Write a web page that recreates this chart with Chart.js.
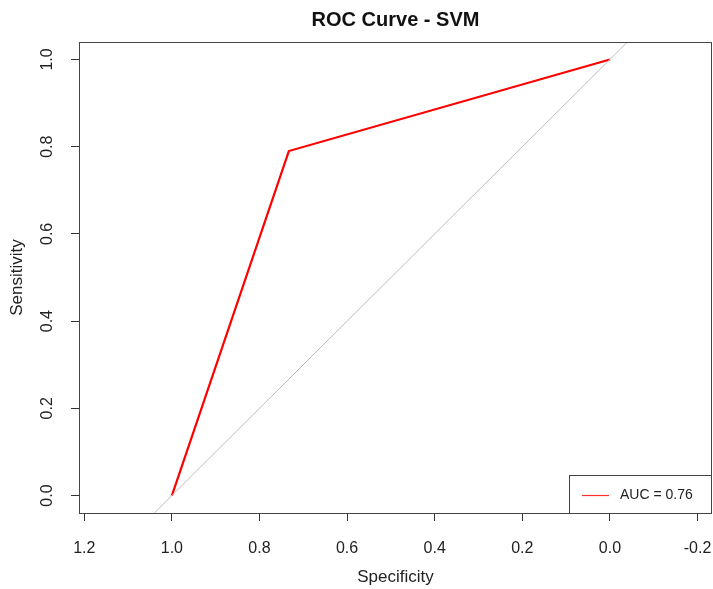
<!DOCTYPE html>
<html>
<head>
<meta charset="utf-8">
<script src="https://cdn.jsdelivr.net/npm/chart.js@4"></script>
<style>
  html, body { margin: 0; padding: 0; background: #fff; }
  #wrap { width: 713px; height: 589px; }
</style>
</head>
<body>
<div id="wrap"><canvas id="rocChart" width="713" height="589"></canvas></div>
<script>
// ROC points
const specificity = [1.0, 0.733, 0.0];
const sensitivity = [0.0, 0.79, 1.0];
const aucLabel = 'AUC = 0.76';

const xTicks = [1.2, 1.0, 0.8, 0.6, 0.4, 0.2, 0.0, -0.2];
const yTicks = [0.0, 0.2, 0.4, 0.6, 0.8, 1.0];
const xRange = [-0.233, 1.212];
const yRange = [-0.04, 1.04];

const FONT = 'Arial, "Liberation Sans", sans-serif';

// chance line x + y = 1, running the full height of the plot
const diagonal = yRange.map(y => ({ x: 1 - y, y }));

const rocPoints = specificity.map((s, i) => ({ x: s, y: sensitivity[i] }));

const rPlot = {
  id: 'rPlot',
  afterDraw(chart) {
    const ctx = chart.ctx;
    const a = chart.chartArea;
    const ys = chart.scales.y;
    ctx.save();
    // box around the plot
    ctx.strokeStyle = '#444';
    ctx.lineWidth = 1;
    ctx.strokeRect(a.left + 0.5, a.top + 0.5, a.right - a.left - 1, a.bottom - a.top);

    // rotated y tick labels, R style
    ctx.fillStyle = '#222';
    ctx.font = '16px ' + FONT;
    ctx.textAlign = 'center';
    ctx.textBaseline = 'middle';
    yTicks.forEach(v => {
      const py = ys.getPixelForValue(v);
      ctx.save();
      ctx.translate(a.left - 31, py);
      ctx.rotate(-Math.PI / 2);
      ctx.fillText(v.toFixed(1), 0, 0);
      ctx.restore();
    });

    // legend box in bottom right corner
    const lw = 143, lh = 38;
    const lx = Math.round(a.right - lw), ly = Math.round(a.bottom - lh);
    ctx.fillStyle = '#fff';
    ctx.fillRect(lx, ly, lw, lh);
    ctx.strokeStyle = '#444';
    ctx.strokeRect(lx + 0.5, ly + 0.5, lw - 1, lh);
    ctx.strokeStyle = '#ff3030';
    ctx.lineWidth = 1.2;
    ctx.beginPath();
    ctx.moveTo(lx + 13, ly + 20.5);
    ctx.lineTo(lx + 40, ly + 20.5);
    ctx.stroke();
    ctx.fillStyle = '#222';
    ctx.font = '14px ' + FONT;
    ctx.textAlign = 'left';
    ctx.fillText(aucLabel, lx + 51, ly + 20);
    ctx.restore();
  }
};

new Chart(document.getElementById('rocChart'), {
  type: 'scatter',
  data: {
    datasets: [
      {
        label: 'chance',
        data: diagonal,
        showLine: true,
        borderColor: '#bdbdbd',
        borderWidth: 1,
        pointRadius: 0
      },
      {
        label: aucLabel,
        data: rocPoints,
        showLine: true,
        borderColor: 'red',
        borderWidth: 2.2,
        pointRadius: 0
      }
    ]
  },
  plugins: [rPlot],
  options: {
    responsive: false,
    animation: false,
    layout: { padding: { top: 0, right: 1, bottom: 0, left: 0 } },
    plugins: {
      legend: { display: false },
      tooltip: { enabled: false },
      title: {
        display: true,
        fullSize: false,
        text: 'ROC Curve - SVM',
        color: '#111',
        font: { family: FONT, size: 20, weight: 'bold' },
        padding: { top: 8, bottom: 10 }
      }
    },
    scales: {
      x: {
        type: 'linear',
        reverse: true,
        min: xRange[0],
        max: xRange[1],
        afterBuildTicks: axis => { axis.ticks = xTicks.map(v => ({ value: v })); },
        afterFit: axis => {
          axis.height = 76;
          axis.paddingLeft = 0;
          axis.paddingRight = 0;
        },
        grid: { drawOnChartArea: false, tickLength: 8, tickColor: '#333' },
        border: { display: false },
        ticks: {
          color: '#222',
          font: { family: FONT, size: 16 },
          padding: 18,
          maxRotation: 0,
          callback: v => v.toFixed(1)
        },
        title: {
          display: true,
          text: 'Specificity',
          color: '#222',
          font: { family: FONT, size: 17 },
          padding: { top: 0, bottom: 1 }
        }
      },
      y: {
        type: 'linear',
        min: yRange[0],
        max: yRange[1],
        afterBuildTicks: axis => { axis.ticks = yTicks.map(v => ({ value: v })); },
        afterFit: axis => {
          axis.width = 79;
          axis.paddingTop = 0;
          axis.paddingBottom = 0;
        },
        grid: { drawOnChartArea: false, tickLength: 8, tickColor: '#333' },
        border: { display: false },
        ticks: { display: false },
        title: {
          display: true,
          text: 'Sensitivity',
          color: '#222',
          font: { family: FONT, size: 17 },
          padding: { top: 7, bottom: 0 }
        }
      }
    }
  }
});
</script>
</body>
</html>
